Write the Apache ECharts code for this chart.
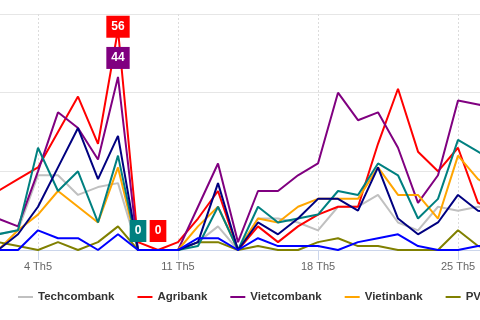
<!DOCTYPE html>
<html lang="vi">
<head>
	<meta charset="UTF-8">
	<title>Ngân hàng</title>
	<script src="https://cdn.jsdelivr.net/npm/echarts@6/dist/echarts.min.js"></script>
	<style>html,body{margin:0;padding:0;overflow:hidden;background:#fff}</style>
</head>
<body>
	<div id="chart" style="width:480px; height:320px"></div>
	<script>
	// ngày trong tháng 5
	var days = [2,3,4,5,6,7,8,9,10,11,12,13,14,15,16,17,18,19,20,21,22,23,24,25,26,27];
	var techcombank = [4,5,19,19,14,16,17,0,0,0,2,6,0,8,8,7,5,11,11,14,7,5,11,10,11,10];
	var agribank    = [15,18,21,30,39,27,56,2,0,2,8,15,0,6,2,6,9,11,11,27,41,25,20,26,12,10];
	var vietcombank = [8,6,20,35,31,23,44,0,0,0,11,22,2,15,15,19,22,40,33,35,26,12,19,38,37,36];
	var vietinbank  = [0,5,9,15,11,7,21,0,0,0,6,11,0,8,7,11,13,13,13,21,14,14,8,24,18,15];
	var pvcombank   = [2,1,0,2,0,2,6,0,0,0,2,2,0,1,0,0,2,3,1,1,0,0,0,5,1,0];
	var bidv        = [4,5,26,15,20,7,24,0,0,0,1,11,0,11,7,8,9,15,14,22,19,8,13,28,25,22];
	var mbbank      = [0,4,11,21,31,18,29,0,0,0,2,17,0,7,4,8,13,13,10,21,8,4,7,14,10,9];
	var acb         = [0,0,5,3,3,0,4,0,0,0,3,3,0,3,1,1,1,0,2,3,4,1,0,0,1,1];
	// các điểm có nhãn: [tên, ngày, vị trí]
	var highlights = [['Agribank', 8, 'inside'], ['Vietcombank', 8, 'top'], ['BIDV', 9, 'top'], ['Agribank', 10, 'top']];

	var font = 'Liberation Sans, Arial, sans-serif';
	var banks = [
		{name: 'Techcombank', color: '#c0c0c0', data: techcombank},
		{name: 'Agribank', color: '#ff0000', data: agribank},
		{name: 'Vietcombank', color: '#800080', data: vietcombank},
		{name: 'Vietinbank', color: '#ffa500', data: vietinbank},
		{name: 'PVcomBank', color: '#808000', data: pvcombank},
		{name: 'BIDV', color: '#008080', data: bidv},
		{name: 'MB Bank', color: '#000080', data: mbbank},
		{name: 'ACB', color: '#0000ff', data: acb}
	];

	function weekly(idx) {
		return (days[idx] - 4) % 7 === 0;
	}

	function buildData(b) {
		return b.data.map(function (v, i) {
			var h = highlights.filter(function (x) { return x[0] === b.name && x[1] === days[i]; })[0];
			if (!h) return v;
			return {
				value: v,
				symbol: 'circle',
				symbolSize: 0,
				label: {
					show: true,
					position: h[2],
					distance: 8,
					offset: h[2] === 'inside' ? [0, -3] : [0, 0],
					backgroundColor: b.color,
					color: '#fff',
					fontWeight: 'bold',
					fontSize: 12,
					fontFamily: font,
					padding: [5, 5]
				}
			};
		});
	}

	var myChart = echarts.init(document.getElementById('chart'));
	var option = {
		animation: false,
		color: banks.map(function (b) { return b.color; }),
		grid: {left: -2, right: -18, top: 14, bottom: 70, containLabel: false, outerBoundsMode: 'none'},
		legend: {
			data: banks.map(function (b) { return b.name; }),
			left: 18,
			top: 291,
			width: 1000,
			padding: 0,
			icon: 'rect',
			itemWidth: 15,
			itemHeight: 2,
			itemGap: 23,
			textStyle: {color: '#333', fontSize: 11.5, fontWeight: 'bold', fontFamily: font}
		},
		xAxis: {
			type: 'category',
			boundaryGap: false,
			data: days,
			axisLine: {lineStyle: {color: '#ccd6eb'}},
			axisTick: {show: true, interval: weekly, length: 10, lineStyle: {color: '#ccd6eb'}},
			axisLabel: {
				interval: weekly,
				margin: 11,
				color: '#666',
				fontSize: 11,
				fontFamily: font,
				formatter: function (d) { return d + ' Th5'; }
			},
			splitLine: {show: true, interval: weekly, lineStyle: {color: '#dcdcdc', type: [2, 2]}}
		},
		yAxis: {
			type: 'value',
			min: 0,
			max: 60,
			interval: 20,
			axisLabel: {show: false},
			axisLine: {show: false},
			axisTick: {show: false},
			splitLine: {lineStyle: {color: '#e6e6e6'}}
		},
		series: banks.map(function (b) {
			return {
				name: b.name,
				type: 'line',
				symbol: 'none',
				lineStyle: {width: 2, color: b.color},
				itemStyle: {color: b.color},
				emphasis: {disabled: true},
				data: buildData(b)
			};
		})
	};
	myChart.setOption(option);
	</script>
</body>
</html>
